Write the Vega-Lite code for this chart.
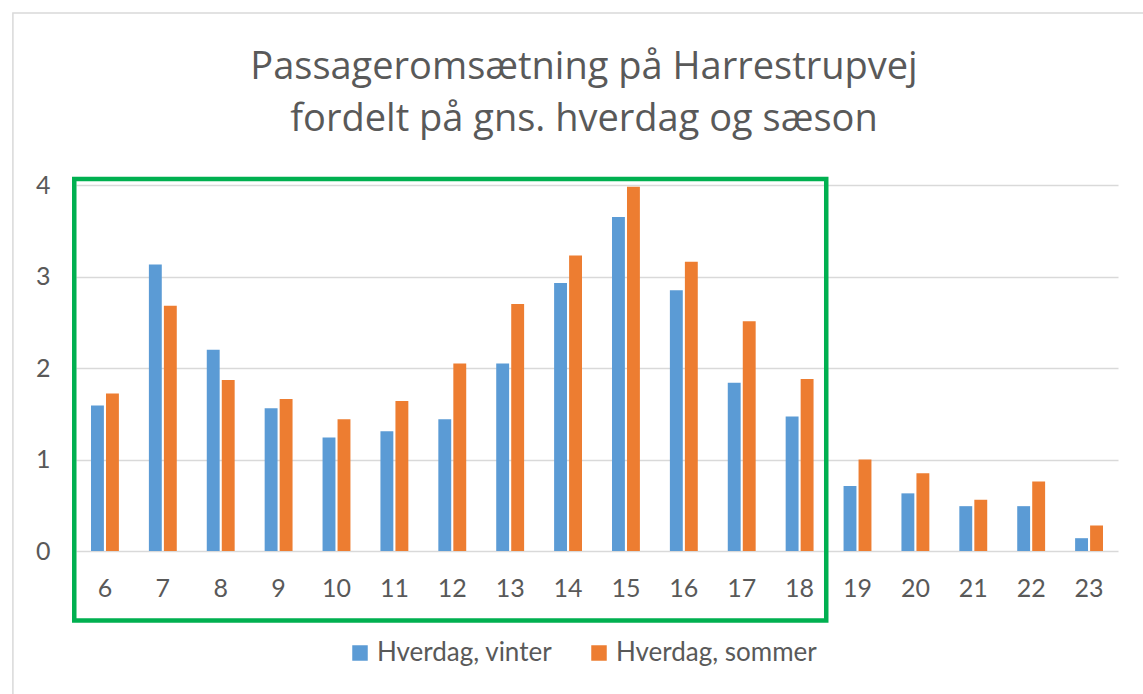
{
  "$schema": "https://vega.github.io/schema/vega-lite/v6.json",
  "autosize": {"type": "none"},
  "width": 1042,
  "height": 366,
  "padding": {"left": 76, "top": 185, "right": 25, "bottom": 143},
  "background": "white",
  "title": {
    "text": ["Passageromsætning på Harrestrupvej", "fordelt på gns. hverdag og sæson"],
    "font": "Open Sans",
    "fontSize": 38,
    "fontWeight": 400,
    "color": "#595959",
    "lineHeight": 52,
    "anchor": "middle",
    "dx": -13,
    "baseline": "bottom",
    "offset": -165
  },
  "datasets": {
    "bars": [
      {"hour": 6, "season": "Hverdag, vinter", "value": 1.59},
      {"hour": 6, "season": "Hverdag, sommer", "value": 1.72},
      {"hour": 7, "season": "Hverdag, vinter", "value": 3.13},
      {"hour": 7, "season": "Hverdag, sommer", "value": 2.68},
      {"hour": 8, "season": "Hverdag, vinter", "value": 2.20},
      {"hour": 8, "season": "Hverdag, sommer", "value": 1.87},
      {"hour": 9, "season": "Hverdag, vinter", "value": 1.56},
      {"hour": 9, "season": "Hverdag, sommer", "value": 1.66},
      {"hour": 10, "season": "Hverdag, vinter", "value": 1.24},
      {"hour": 10, "season": "Hverdag, sommer", "value": 1.44},
      {"hour": 11, "season": "Hverdag, vinter", "value": 1.31},
      {"hour": 11, "season": "Hverdag, sommer", "value": 1.64},
      {"hour": 12, "season": "Hverdag, vinter", "value": 1.44},
      {"hour": 12, "season": "Hverdag, sommer", "value": 2.05},
      {"hour": 13, "season": "Hverdag, vinter", "value": 2.05},
      {"hour": 13, "season": "Hverdag, sommer", "value": 2.70},
      {"hour": 14, "season": "Hverdag, vinter", "value": 2.93},
      {"hour": 14, "season": "Hverdag, sommer", "value": 3.23},
      {"hour": 15, "season": "Hverdag, vinter", "value": 3.65},
      {"hour": 15, "season": "Hverdag, sommer", "value": 3.98},
      {"hour": 16, "season": "Hverdag, vinter", "value": 2.85},
      {"hour": 16, "season": "Hverdag, sommer", "value": 3.16},
      {"hour": 17, "season": "Hverdag, vinter", "value": 1.84},
      {"hour": 17, "season": "Hverdag, sommer", "value": 2.51},
      {"hour": 18, "season": "Hverdag, vinter", "value": 1.47},
      {"hour": 18, "season": "Hverdag, sommer", "value": 1.88},
      {"hour": 19, "season": "Hverdag, vinter", "value": 0.71},
      {"hour": 19, "season": "Hverdag, sommer", "value": 1.00},
      {"hour": 20, "season": "Hverdag, vinter", "value": 0.63},
      {"hour": 20, "season": "Hverdag, sommer", "value": 0.85},
      {"hour": 21, "season": "Hverdag, vinter", "value": 0.49},
      {"hour": 21, "season": "Hverdag, sommer", "value": 0.56},
      {"hour": 22, "season": "Hverdag, vinter", "value": 0.49},
      {"hour": 22, "season": "Hverdag, sommer", "value": 0.76},
      {"hour": 23, "season": "Hverdag, vinter", "value": 0.14},
      {"hour": 23, "season": "Hverdag, sommer", "value": 0.28}
    ],
    "highlight": [
      {"from": 6, "to": 18, "low": -0.76, "high": 4.066}
    ],
    "frame": [
      {"from": 6, "to": 23, "low": -2, "high": 5.88}
    ]
  },
  "layer": [
    {
      "data": {"name": "bars"},
      "mark": {"type": "bar"},
      "encoding": {
        "x": {
          "field": "hour",
          "type": "ordinal",
          "scale": {"domain": [6,7,8,9,10,11,12,13,14,15,16,17,18,19,20,21,22,23], "paddingInner": 0, "paddingOuter": 0},
          "axis": {
            "title": null,
            "labelAngle": 0,
            "bandPosition": 0.5,
            "labelFont": "Lato",
            "labelFontSize": 25,
            "labelColor": "#595959",
            "labelPadding": 25,
            "ticks": false,
            "domain": false,
            "grid": false
          }
        },
        "xOffset": {
          "field": "season",
          "type": "nominal",
          "sort": ["Hverdag, vinter", "Hverdag, sommer"],
          "scale": {"paddingInner": 0.14, "paddingOuter": 1.07}
        },
        "y": {
          "field": "value",
          "type": "quantitative",
          "scale": {"domain": [0, 4], "nice": false, "zero": true},
          "axis": {
            "title": null,
            "values": [0, 1, 2, 3, 4],
            "format": "d",
            "labelFont": "Lato",
            "labelFontSize": 25,
            "labelColor": "#595959",
            "labelPadding": 26,
            "ticks": false,
            "domain": false,
            "grid": true,
            "gridColor": "#D9D9D9",
            "gridWidth": 1.5
          }
        },
        "color": {
          "field": "season",
          "type": "nominal",
          "sort": ["Hverdag, vinter", "Hverdag, sommer"],
          "scale": {"domain": ["Hverdag, vinter", "Hverdag, sommer"], "range": ["#5B9BD5", "#ED7D31"]},
          "legend": {
            "title": null,
            "orient": "none",
            "direction": "horizontal",
            "legendX": 271,
            "legendY": 455,
            "symbolType": "square",
            "symbolSize": 240,
            "symbolStrokeWidth": 0,
            "labelFont": "Lato",
            "labelFontSize": 26,
            "labelColor": "#595959",
            "labelOffset": 4,
            "labelLimit": 0,
            "columnPadding": 33
          }
        }
      }
    },
    {
      "data": {"name": "frame"},
      "mark": {"type": "rect", "fill": null, "filled": false, "stroke": "#D9D9D9", "strokeWidth": 1.5},
      "encoding": {
        "x": {"field": "from", "type": "ordinal", "bandPosition": -1.09},
        "x2": {"field": "to", "bandPosition": 2},
        "y": {"field": "low", "type": "quantitative"},
        "y2": {"field": "high"}
      }
    },
    {
      "data": {"name": "highlight"},
      "mark": {"type": "rect", "fill": null, "filled": false, "stroke": "#00B050", "strokeWidth": 4.5},
      "encoding": {
        "x": {"field": "from", "type": "ordinal", "bandPosition": -0.03},
        "x2": {"field": "to", "bandPosition": 0.96},
        "y": {"field": "low", "type": "quantitative"},
        "y2": {"field": "high"}
      }
    }
  ],
  "config": {
    "view": {"stroke": null},
    "font": "Lato"
  }
}
